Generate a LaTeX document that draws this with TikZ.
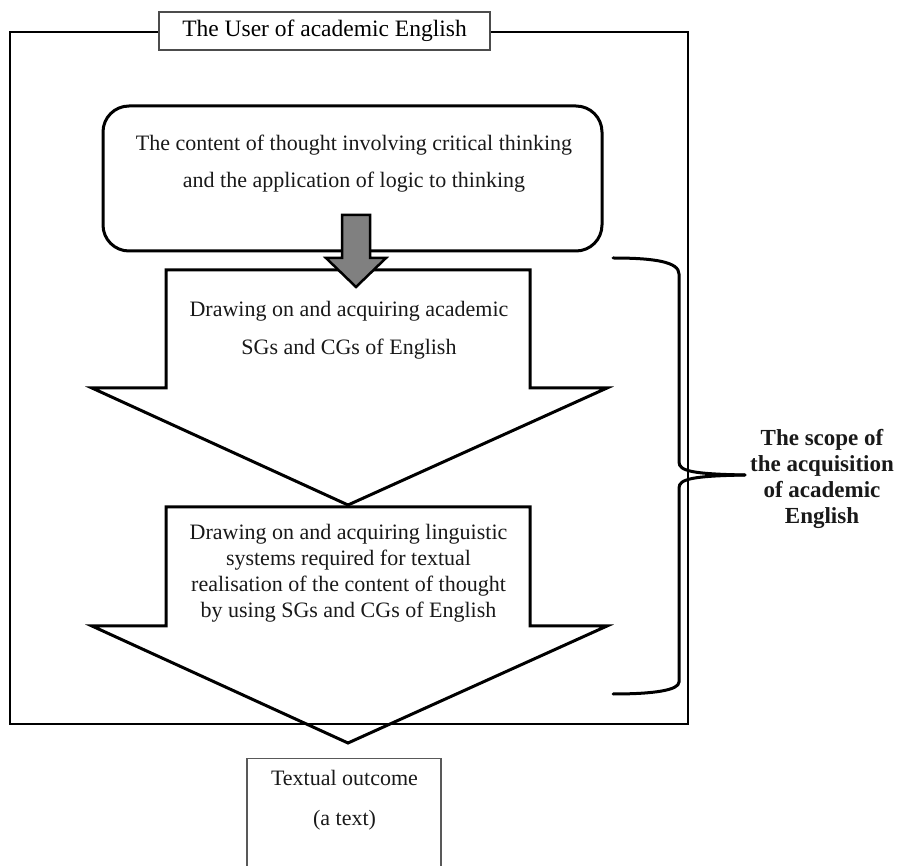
\documentclass[tikz,border=0pt]{standalone}
\usepackage{fontspec}
\setmainfont{Liberation Serif}
\begin{document}
\begin{tikzpicture}[x=1pt,y=-1pt,
  txt/.style={align=center, inner sep=0pt, text=black!90},
  bigarrow/.style={draw=black, line width=3pt, fill=white, line join=miter},
  framebox/.style={draw=black, line width=2pt},
  labelbox/.style={draw=black!70, line width=1.5pt, fill=white, inner sep=0pt},
  thoughtbox/.style={draw=black, line width=3pt, rounded corners=26pt, inner sep=0pt},
  greyarrow/.style={draw=black, line width=2.5pt, fill=black!50, line join=miter},
  bracepath/.style={draw=black, line width=3pt, line cap=round}
]
\useasboundingbox (0,0) rectangle (898,866);

% thought box
\node[thoughtbox, minimum width=499pt, minimum height=145pt] (thought) at (352.5,178.5) {};
\node[txt, font=\fontsize{22}{37}\selectfont] (thoughttext) at (354,164)
  {The content of thought involving critical thinking\\and the application of logic to thinking};

% first large down arrow
\draw[bigarrow] (166,270) -- (530,270) -- (530,388) -- (607,388) -- (348,505)
  -- (92,388) -- (166,388) -- cycle;
\node[txt, font=\fontsize{22}{38}\selectfont] (sgtext) at (349,330)
  {Drawing on and acquiring academic\\SGs and CGs of English};

% second large down arrow
\draw[bigarrow] (166,507) -- (530,507) -- (530,626) -- (607,626) -- (348,743)
  -- (92,626) -- (166,626) -- cycle;
\node[txt, font=\fontsize{22}{26}\selectfont] (lingtext) at (348.5,573.5)
  {Drawing on and acquiring linguistic\\systems required for textual\\realisation of the content of thought\\by using SGs and CGs of English};

% outer frame with its title
\draw[framebox] (10,32) rectangle (688,724);
\node[labelbox, minimum width=331pt, minimum height=38pt,
  font=\fontsize{23.5}{26}\selectfont] (user) at (324.5,31) {The User of academic English};

% grey arrow from the thought box
\draw[greyarrow] (342,215) -- (370,215) -- (370,258) -- (386,258) -- (356,287)
  -- (326,258) -- (342,258) -- cycle;

% textual outcome box (open at the bottom edge)
\node[draw=black!65, line width=1.2pt, minimum width=194pt, minimum height=140pt,
  anchor=north, inner sep=0pt] (outcome) at (344,758) {};
\node[txt, font=\fontsize{22}{40}\selectfont] (outcometext) at (344.5,800)
  {Textual outcome\\(a text)};

% curly brace
\coordinate (bracetop) at (613,258);
\coordinate (bracetip) at (745,475);
\coordinate (bracebot) at (613,694);
\draw[bracepath] (bracetop) .. controls (655,258) and (679,262) .. (679,274)
  -- (679,462) .. controls (679,471) and (692,474) .. (bracetip);
\draw[bracepath] (bracetip) .. controls (692,476) and (679,479) .. (679,488)
  -- (679,682) .. controls (679,690) and (655,694) .. (bracebot);

% scope label
\node[txt, font=\bfseries\fontsize{23}{26}\selectfont] (scope) at (822,478.5)
  {The scope of\\the acquisition\\of academic\\English};
\end{tikzpicture}
\end{document}
